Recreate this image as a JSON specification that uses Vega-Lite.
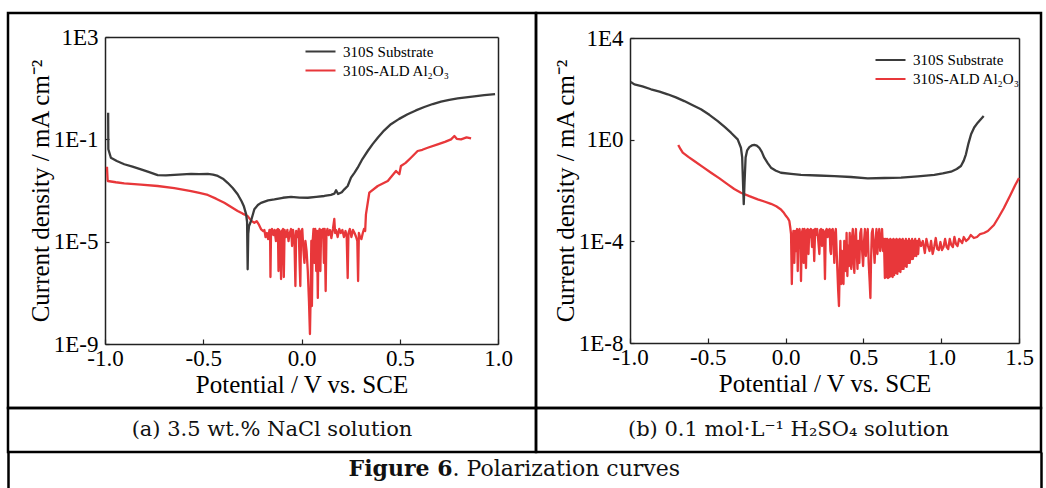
{
  "$schema": "https://vega.github.io/schema/vega-lite/v6.json",
  "background": "white",
  "padding": {"left": 6, "top": 11, "right": 0, "bottom": 0},
  "columns": 2,
  "spacing": 0,
  "bounds": "flush",
  "resolve": {"scale": {"color": "independent"}, "legend": {"color": "independent"}},
  "datasets": {
    "a": [
      {"s": "310S Substrate", "v": -0.984, "i": 1.1},
      {"s": "310S Substrate", "v": -0.983, "i": 0.041},
      {"s": "310S Substrate", "v": -0.970, "i": 0.0191},
      {"s": "310S Substrate", "v": -0.940, "i": 0.0142},
      {"s": "310S Substrate", "v": -0.902, "i": 0.0106},
      {"s": "310S Substrate", "v": -0.860, "i": 0.0085},
      {"s": "310S Substrate", "v": -0.817, "i": 0.0067},
      {"s": "310S Substrate", "v": -0.775, "i": 0.0052},
      {"s": "310S Substrate", "v": -0.732, "i": 0.0040},
      {"s": "310S Substrate", "v": -0.690, "i": 0.0039},
      {"s": "310S Substrate", "v": -0.647, "i": 0.0041},
      {"s": "310S Substrate", "v": -0.605, "i": 0.0043},
      {"s": "310S Substrate", "v": -0.562, "i": 0.0045},
      {"s": "310S Substrate", "v": -0.520, "i": 0.0044},
      {"s": "310S Substrate", "v": -0.477, "i": 0.0045},
      {"s": "310S Substrate", "v": -0.450, "i": 0.0042},
      {"s": "310S Substrate", "v": -0.426, "i": 0.0037},
      {"s": "310S Substrate", "v": -0.400, "i": 0.0029},
      {"s": "310S Substrate", "v": -0.376, "i": 0.0020},
      {"s": "310S Substrate", "v": -0.350, "i": 0.00125},
      {"s": "310S Substrate", "v": -0.325, "i": 0.00071},
      {"s": "310S Substrate", "v": -0.305, "i": 0.00038},
      {"s": "310S Substrate", "v": -0.294, "i": 0.00025},
      {"s": "310S Substrate", "v": -0.282, "i": 0.00012},
      {"s": "310S Substrate", "v": -0.277, "i": 0.00006},
      {"s": "310S Substrate", "v": -0.274, "i": 8.3e-7},
      {"s": "310S Substrate", "v": -0.271, "i": 2e-5},
      {"s": "310S Substrate", "v": -0.267, "i": 4.1e-5},
      {"s": "310S Substrate", "v": -0.257, "i": 6.4e-5},
      {"s": "310S Substrate", "v": -0.240, "i": 1.84e-4},
      {"s": "310S Substrate", "v": -0.222, "i": 2.7e-4},
      {"s": "310S Substrate", "v": -0.206, "i": 3.3e-4},
      {"s": "310S Substrate", "v": -0.170, "i": 4.1e-4},
      {"s": "310S Substrate", "v": -0.138, "i": 4.5e-4},
      {"s": "310S Substrate", "v": -0.095, "i": 5.2e-4},
      {"s": "310S Substrate", "v": -0.053, "i": 5.6e-4},
      {"s": "310S Substrate", "v": -0.010, "i": 5.3e-4},
      {"s": "310S Substrate", "v": 0.032, "i": 5.2e-4},
      {"s": "310S Substrate", "v": 0.075, "i": 5.6e-4},
      {"s": "310S Substrate", "v": 0.116, "i": 6.1e-4},
      {"s": "310S Substrate", "v": 0.150, "i": 6.8e-4},
      {"s": "310S Substrate", "v": 0.167, "i": 7.5e-4},
      {"s": "310S Substrate", "v": 0.176, "i": 1.02e-3},
      {"s": "310S Substrate", "v": 0.186, "i": 7.3e-4},
      {"s": "310S Substrate", "v": 0.205, "i": 8.5e-4},
      {"s": "310S Substrate", "v": 0.218, "i": 1.11e-3},
      {"s": "310S Substrate", "v": 0.235, "i": 1.5e-3},
      {"s": "310S Substrate", "v": 0.252, "i": 3.2e-3},
      {"s": "310S Substrate", "v": 0.270, "i": 5.0e-3},
      {"s": "310S Substrate", "v": 0.286, "i": 7.8e-3},
      {"s": "310S Substrate", "v": 0.310, "i": 0.017},
      {"s": "310S Substrate", "v": 0.337, "i": 0.035},
      {"s": "310S Substrate", "v": 0.362, "i": 0.065},
      {"s": "310S Substrate", "v": 0.388, "i": 0.116},
      {"s": "310S Substrate", "v": 0.420, "i": 0.22},
      {"s": "310S Substrate", "v": 0.455, "i": 0.39},
      {"s": "310S Substrate", "v": 0.497, "i": 0.63},
      {"s": "310S Substrate", "v": 0.540, "i": 0.95},
      {"s": "310S Substrate", "v": 0.582, "i": 1.35},
      {"s": "310S Substrate", "v": 0.625, "i": 1.84},
      {"s": "310S Substrate", "v": 0.668, "i": 2.4},
      {"s": "310S Substrate", "v": 0.710, "i": 2.96},
      {"s": "310S Substrate", "v": 0.752, "i": 3.5},
      {"s": "310S Substrate", "v": 0.795, "i": 4.0},
      {"s": "310S Substrate", "v": 0.837, "i": 4.4},
      {"s": "310S Substrate", "v": 0.879, "i": 4.8},
      {"s": "310S Substrate", "v": 0.930, "i": 5.3},
      {"s": "310S Substrate", "v": 0.985, "i": 5.9},
      {"s": "310S-ALD Al₂O₃", "v": -0.990, "i": 8.5e-3},
      {"s": "310S-ALD Al₂O₃", "v": -0.987, "i": 2.8e-3},
      {"s": "310S-ALD Al₂O₃", "v": -0.986, "i": 2.35e-3},
      {"s": "310S-ALD Al₂O₃", "v": -0.945, "i": 2.1e-3},
      {"s": "310S-ALD Al₂O₃", "v": -0.902, "i": 1.91e-3},
      {"s": "310S-ALD Al₂O₃", "v": -0.817, "i": 1.7e-3},
      {"s": "310S-ALD Al₂O₃", "v": -0.732, "i": 1.5e-3},
      {"s": "310S-ALD Al₂O₃", "v": -0.647, "i": 1.25e-3},
      {"s": "310S-ALD Al₂O₃", "v": -0.562, "i": 9.5e-4},
      {"s": "310S-ALD Al₂O₃", "v": -0.520, "i": 8.0e-4},
      {"s": "310S-ALD Al₂O₃", "v": -0.477, "i": 6.7e-4},
      {"s": "310S-ALD Al₂O₃", "v": -0.435, "i": 4.8e-4},
      {"s": "310S-ALD Al₂O₃", "v": -0.393, "i": 3.3e-4},
      {"s": "310S-ALD Al₂O₃", "v": -0.360, "i": 2.3e-4},
      {"s": "310S-ALD Al₂O₃", "v": -0.325, "i": 1.58e-4},
      {"s": "310S-ALD Al₂O₃", "v": -0.300, "i": 1.25e-4},
      {"s": "310S-ALD Al₂O₃", "v": -0.274, "i": 1.0e-4},
      {"s": "310S-ALD Al₂O₃", "v": -0.255, "i": 6.5e-5},
      {"s": "310S-ALD Al₂O₃", "v": -0.240, "i": 5.5e-5},
      {"s": "310S-ALD Al₂O₃", "v": -0.228, "i": 6.3e-5},
      {"s": "310S-ALD Al₂O₃", "v": -0.216, "i": 4.5e-5},
      {"s": "310S-ALD Al₂O₃", "v": -0.205, "i": 3.0e-5},
      {"s": "310S-ALD Al₂O₃", "v": -0.195, "i": 2.6e-5},
      {"s": "310S-ALD Al₂O₃", "v": -0.189, "i": 2.86e-5},
      {"s": "310S-ALD Al₂O₃", "v": -0.183, "i": 1.52e-5},
      {"s": "310S-ALD Al₂O₃", "v": -0.176, "i": 2.18e-5},
      {"s": "310S-ALD Al₂O₃", "v": -0.170, "i": 1.27e-5},
      {"s": "310S-ALD Al₂O₃", "v": -0.163, "i": 2.86e-5},
      {"s": "310S-ALD Al₂O₃", "v": -0.160, "i": 2.86e-5},
      {"s": "310S-ALD Al₂O₃", "v": -0.158, "i": 4.16e-7},
      {"s": "310S-ALD Al₂O₃", "v": -0.155, "i": 2.61e-5},
      {"s": "310S-ALD Al₂O₃", "v": -0.150, "i": 3.13e-5},
      {"s": "310S-ALD Al₂O₃", "v": -0.143, "i": 1.82e-5},
      {"s": "310S-ALD Al₂O₃", "v": -0.137, "i": 2.86e-5},
      {"s": "310S-ALD Al₂O₃", "v": -0.130, "i": 1.06e-5},
      {"s": "310S-ALD Al₂O₃", "v": -0.125, "i": 2.86e-5},
      {"s": "310S-ALD Al₂O₃", "v": -0.120, "i": 3.13e-5},
      {"s": "310S-ALD Al₂O₃", "v": -0.117, "i": 7.1e-7},
      {"s": "310S-ALD Al₂O₃", "v": -0.114, "i": 2.86e-5},
      {"s": "310S-ALD Al₂O₃", "v": -0.108, "i": 2.18e-5},
      {"s": "310S-ALD Al₂O₃", "v": -0.104, "i": 3.47e-7},
      {"s": "310S-ALD Al₂O₃", "v": -0.100, "i": 2.61e-5},
      {"s": "310S-ALD Al₂O₃", "v": -0.094, "i": 3.13e-5},
      {"s": "310S-ALD Al₂O₃", "v": -0.090, "i": 4.16e-7},
      {"s": "310S-ALD Al₂O₃", "v": -0.086, "i": 2.86e-5},
      {"s": "310S-ALD Al₂O₃", "v": -0.079, "i": 1.52e-5},
      {"s": "310S-ALD Al₂O₃", "v": -0.072, "i": 2.86e-5},
      {"s": "310S-ALD Al₂O₃", "v": -0.066, "i": 1.06e-5},
      {"s": "310S-ALD Al₂O₃", "v": -0.060, "i": 2.18e-5},
      {"s": "310S-ALD Al₂O₃", "v": -0.053, "i": 3.13e-5},
      {"s": "310S-ALD Al₂O₃", "v": -0.048, "i": 6.76e-6},
      {"s": "310S-ALD Al₂O₃", "v": -0.043, "i": 2.86e-5},
      {"s": "310S-ALD Al₂O₃", "v": -0.036, "i": 1.27e-5},
      {"s": "310S-ALD Al₂O₃", "v": -0.031, "i": 1.85e-7},
      {"s": "310S-ALD Al₂O₃", "v": -0.027, "i": 2.61e-5},
      {"s": "310S-ALD Al₂O₃", "v": -0.020, "i": 1.52e-5},
      {"s": "310S-ALD Al₂O₃", "v": -0.014, "i": 3.13e-5},
      {"s": "310S-ALD Al₂O₃", "v": -0.010, "i": 1.75e-6},
      {"s": "310S-ALD Al₂O₃", "v": -0.006, "i": 1.85e-7},
      {"s": "310S-ALD Al₂O₃", "v": -0.002, "i": 2.61e-5},
      {"s": "310S-ALD Al₂O₃", "v": 0.004, "i": 3.13e-5},
      {"s": "310S-ALD Al₂O₃", "v": 0.010, "i": 4.31e-6},
      {"s": "310S-ALD Al₂O₃", "v": 0.015, "i": 1.47e-6},
      {"s": "310S-ALD Al₂O₃", "v": 0.020, "i": 1.06e-5},
      {"s": "310S-ALD Al₂O₃", "v": 0.026, "i": 4.31e-6},
      {"s": "310S-ALD Al₂O₃", "v": 0.032, "i": 7.1e-7},
      {"s": "310S-ALD Al₂O₃", "v": 0.038, "i": 4.8e-8},
      {"s": "310S-ALD Al₂O₃", "v": 0.043, "i": 2.46e-9},
      {"s": "310S-ALD Al₂O₃", "v": 0.047, "i": 1.18e-7},
      {"s": "310S-ALD Al₂O₃", "v": 0.050, "i": 1.06e-5},
      {"s": "310S-ALD Al₂O₃", "v": 0.053, "i": 3.06e-8},
      {"s": "310S-ALD Al₂O₃", "v": 0.057, "i": 1.06e-5},
      {"s": "310S-ALD Al₂O₃", "v": 0.061, "i": 3.13e-5},
      {"s": "310S-ALD Al₂O₃", "v": 0.066, "i": 1.47e-6},
      {"s": "310S-ALD Al₂O₃", "v": 0.070, "i": 3.13e-5},
      {"s": "310S-ALD Al₂O₃", "v": 0.075, "i": 7.1e-7},
      {"s": "310S-ALD Al₂O₃", "v": 0.079, "i": 2.61e-5},
      {"s": "310S-ALD Al₂O₃", "v": 0.083, "i": 6.3e-8},
      {"s": "310S-ALD Al₂O₃", "v": 0.087, "i": 2.18e-5},
      {"s": "310S-ALD Al₂O₃", "v": 0.092, "i": 3.13e-5},
      {"s": "310S-ALD Al₂O₃", "v": 0.096, "i": 7.1e-7},
      {"s": "310S-ALD Al₂O₃", "v": 0.100, "i": 2.86e-5},
      {"s": "310S-ALD Al₂O₃", "v": 0.105, "i": 1.52e-5},
      {"s": "310S-ALD Al₂O₃", "v": 0.110, "i": 3.13e-5},
      {"s": "310S-ALD Al₂O₃", "v": 0.114, "i": 1.47e-6},
      {"s": "310S-ALD Al₂O₃", "v": 0.118, "i": 3.13e-5},
      {"s": "310S-ALD Al₂O₃", "v": 0.123, "i": 1.18e-7},
      {"s": "310S-ALD Al₂O₃", "v": 0.127, "i": 2.18e-5},
      {"s": "310S-ALD Al₂O₃", "v": 0.132, "i": 3.13e-5},
      {"s": "310S-ALD Al₂O₃", "v": 0.138, "i": 1.82e-5},
      {"s": "310S-ALD Al₂O₃", "v": 0.145, "i": 2.86e-5},
      {"s": "310S-ALD Al₂O₃", "v": 0.152, "i": 1.39e-5},
      {"s": "310S-ALD Al₂O₃", "v": 0.160, "i": 3.13e-5},
      {"s": "310S-ALD Al₂O₃", "v": 0.167, "i": 7.7e-5},
      {"s": "310S-ALD Al₂O₃", "v": 0.171, "i": 2.18e-5},
      {"s": "310S-ALD Al₂O₃", "v": 0.176, "i": 2.86e-5},
      {"s": "310S-ALD Al₂O₃", "v": 0.184, "i": 1.52e-5},
      {"s": "310S-ALD Al₂O₃", "v": 0.192, "i": 3.13e-5},
      {"s": "310S-ALD Al₂O₃", "v": 0.200, "i": 2.18e-5},
      {"s": "310S-ALD Al₂O₃", "v": 0.208, "i": 2.86e-5},
      {"s": "310S-ALD Al₂O₃", "v": 0.216, "i": 1.52e-5},
      {"s": "310S-ALD Al₂O₃", "v": 0.224, "i": 2.61e-5},
      {"s": "310S-ALD Al₂O₃", "v": 0.230, "i": 1.52e-5},
      {"s": "310S-ALD Al₂O₃", "v": 0.235, "i": 3.8e-7},
      {"s": "310S-ALD Al₂O₃", "v": 0.239, "i": 2.18e-5},
      {"s": "310S-ALD Al₂O₃", "v": 0.246, "i": 3.13e-5},
      {"s": "310S-ALD Al₂O₃", "v": 0.254, "i": 1.52e-5},
      {"s": "310S-ALD Al₂O₃", "v": 0.262, "i": 2.86e-5},
      {"s": "310S-ALD Al₂O₃", "v": 0.270, "i": 2.18e-5},
      {"s": "310S-ALD Al₂O₃", "v": 0.278, "i": 1.52e-5},
      {"s": "310S-ALD Al₂O₃", "v": 0.284, "i": 1.06e-5},
      {"s": "310S-ALD Al₂O₃", "v": 0.288, "i": 2.9e-7},
      {"s": "310S-ALD Al₂O₃", "v": 0.292, "i": 2.18e-5},
      {"s": "310S-ALD Al₂O₃", "v": 0.298, "i": 1.52e-5},
      {"s": "310S-ALD Al₂O₃", "v": 0.305, "i": 1.27e-5},
      {"s": "310S-ALD Al₂O₃", "v": 0.312, "i": 2.18e-5},
      {"s": "310S-ALD Al₂O₃", "v": 0.318, "i": 3.13e-5},
      {"s": "310S-ALD Al₂O₃", "v": 0.324, "i": 2.61e-5},
      {"s": "310S-ALD Al₂O₃", "v": 0.328, "i": 1.17e-4},
      {"s": "310S-ALD Al₂O₃", "v": 0.345, "i": 8.2e-4},
      {"s": "310S-ALD Al₂O₃", "v": 0.388, "i": 1.5e-3},
      {"s": "310S-ALD Al₂O₃", "v": 0.439, "i": 2.35e-3},
      {"s": "310S-ALD Al₂O₃", "v": 0.481, "i": 5.8e-3},
      {"s": "310S-ALD Al₂O₃", "v": 0.498, "i": 4.3e-3},
      {"s": "310S-ALD Al₂O₃", "v": 0.506, "i": 9.1e-3},
      {"s": "310S-ALD Al₂O₃", "v": 0.530, "i": 0.012},
      {"s": "310S-ALD Al₂O₃", "v": 0.557, "i": 0.0191},
      {"s": "310S-ALD Al₂O₃", "v": 0.591, "i": 0.035},
      {"s": "310S-ALD Al₂O₃", "v": 0.615, "i": 0.039},
      {"s": "310S-ALD Al₂O₃", "v": 0.642, "i": 0.047},
      {"s": "310S-ALD Al₂O₃", "v": 0.693, "i": 0.064},
      {"s": "310S-ALD Al₂O₃", "v": 0.730, "i": 0.080},
      {"s": "310S-ALD Al₂O₃", "v": 0.761, "i": 0.100},
      {"s": "310S-ALD Al₂O₃", "v": 0.778, "i": 0.135},
      {"s": "310S-ALD Al₂O₃", "v": 0.790, "i": 0.105},
      {"s": "310S-ALD Al₂O₃", "v": 0.812, "i": 0.100},
      {"s": "310S-ALD Al₂O₃", "v": 0.840, "i": 0.120},
      {"s": "310S-ALD Al₂O₃", "v": 0.863, "i": 0.110}
    ],
    "b": [
      {"s": "310S Substrate", "v": -0.995, "i": 185},
      {"s": "310S Substrate", "v": -0.972, "i": 150},
      {"s": "310S Substrate", "v": -0.920, "i": 125},
      {"s": "310S Substrate", "v": -0.865, "i": 96},
      {"s": "310S Substrate", "v": -0.810, "i": 78},
      {"s": "310S Substrate", "v": -0.758, "i": 61},
      {"s": "310S Substrate", "v": -0.705, "i": 46},
      {"s": "310S Substrate", "v": -0.651, "i": 33},
      {"s": "310S Substrate", "v": -0.600, "i": 23},
      {"s": "310S Substrate", "v": -0.544, "i": 15.7},
      {"s": "310S Substrate", "v": -0.490, "i": 9.5},
      {"s": "310S Substrate", "v": -0.436, "i": 5.4},
      {"s": "310S Substrate", "v": -0.390, "i": 3.1},
      {"s": "310S Substrate", "v": -0.351, "i": 1.88},
      {"s": "310S Substrate", "v": -0.308, "i": 1.03},
      {"s": "310S Substrate", "v": -0.287, "i": 0.48},
      {"s": "310S Substrate", "v": -0.279, "i": 0.2},
      {"s": "310S Substrate", "v": -0.272, "i": 0.01},
      {"s": "310S Substrate", "v": -0.269, "i": 0.0029},
      {"s": "310S Substrate", "v": -0.264, "i": 0.02},
      {"s": "310S Substrate", "v": -0.257, "i": 0.2},
      {"s": "310S Substrate", "v": -0.247, "i": 0.38},
      {"s": "310S Substrate", "v": -0.233, "i": 0.51},
      {"s": "310S Substrate", "v": -0.217, "i": 0.59},
      {"s": "310S Substrate", "v": -0.201, "i": 0.62},
      {"s": "310S Substrate", "v": -0.185, "i": 0.58},
      {"s": "310S Substrate", "v": -0.169, "i": 0.48},
      {"s": "310S Substrate", "v": -0.153, "i": 0.33},
      {"s": "310S Substrate", "v": -0.137, "i": 0.195},
      {"s": "310S Substrate", "v": -0.115, "i": 0.12},
      {"s": "310S Substrate", "v": -0.094, "i": 0.079},
      {"s": "310S Substrate", "v": -0.062, "i": 0.060},
      {"s": "310S Substrate", "v": -0.030, "i": 0.050},
      {"s": "310S Substrate", "v": 0.035, "i": 0.045},
      {"s": "310S Substrate", "v": 0.099, "i": 0.041},
      {"s": "310S Substrate", "v": 0.206, "i": 0.039},
      {"s": "310S Substrate", "v": 0.313, "i": 0.037},
      {"s": "310S Substrate", "v": 0.420, "i": 0.034},
      {"s": "310S Substrate", "v": 0.528, "i": 0.030},
      {"s": "310S Substrate", "v": 0.635, "i": 0.031},
      {"s": "310S Substrate", "v": 0.742, "i": 0.032},
      {"s": "310S Substrate", "v": 0.850, "i": 0.036},
      {"s": "310S Substrate", "v": 0.956, "i": 0.041},
      {"s": "310S Substrate", "v": 1.010, "i": 0.047},
      {"s": "310S Substrate", "v": 1.063, "i": 0.055},
      {"s": "310S Substrate", "v": 1.100, "i": 0.07},
      {"s": "310S Substrate", "v": 1.127, "i": 0.092},
      {"s": "310S Substrate", "v": 1.145, "i": 0.15},
      {"s": "310S Substrate", "v": 1.159, "i": 0.265},
      {"s": "310S Substrate", "v": 1.175, "i": 0.7},
      {"s": "310S Substrate", "v": 1.192, "i": 1.63},
      {"s": "310S Substrate", "v": 1.212, "i": 3.0},
      {"s": "310S Substrate", "v": 1.235, "i": 4.66},
      {"s": "310S Substrate", "v": 1.273, "i": 8.5},
      {"s": "310S-ALD Al₂O₃", "v": -0.690, "i": 0.62},
      {"s": "310S-ALD Al₂O₃", "v": -0.675, "i": 0.42},
      {"s": "310S-ALD Al₂O₃", "v": -0.661, "i": 0.31},
      {"s": "310S-ALD Al₂O₃", "v": -0.625, "i": 0.21},
      {"s": "310S-ALD Al₂O₃", "v": -0.587, "i": 0.145},
      {"s": "310S-ALD Al₂O₃", "v": -0.533, "i": 0.085},
      {"s": "310S-ALD Al₂O₃", "v": -0.479, "i": 0.050},
      {"s": "310S-ALD Al₂O₃", "v": -0.425, "i": 0.030},
      {"s": "310S-ALD Al₂O₃", "v": -0.372, "i": 0.0175},
      {"s": "310S-ALD Al₂O₃", "v": -0.330, "i": 0.0115},
      {"s": "310S-ALD Al₂O₃", "v": -0.287, "i": 0.0082},
      {"s": "310S-ALD Al₂O₃", "v": -0.233, "i": 0.0060},
      {"s": "310S-ALD Al₂O₃", "v": -0.179, "i": 0.0045},
      {"s": "310S-ALD Al₂O₃", "v": -0.137, "i": 0.0037},
      {"s": "310S-ALD Al₂O₃", "v": -0.094, "i": 0.0030},
      {"s": "310S-ALD Al₂O₃", "v": -0.060, "i": 0.0024},
      {"s": "310S-ALD Al₂O₃", "v": -0.030, "i": 0.0018},
      {"s": "310S-ALD Al₂O₃", "v": -0.010, "i": 0.0013},
      {"s": "310S-ALD Al₂O₃", "v": 0.003, "i": 9.9e-4},
      {"s": "310S-ALD Al₂O₃", "v": 0.015, "i": 8.0e-4},
      {"s": "310S-ALD Al₂O₃", "v": 0.024, "i": 6.3e-4},
      {"s": "310S-ALD Al₂O₃", "v": 0.030, "i": 3.5e-4},
      {"s": "310S-ALD Al₂O₃", "v": 0.035, "i": 1.94e-4},
      {"s": "310S-ALD Al₂O₃", "v": 0.040, "i": 2.09e-6},
      {"s": "310S-ALD Al₂O₃", "v": 0.045, "i": 1.03e-4},
      {"s": "310S-ALD Al₂O₃", "v": 0.050, "i": 2.55e-4},
      {"s": "310S-ALD Al₂O₃", "v": 0.056, "i": 1.41e-5},
      {"s": "310S-ALD Al₂O₃", "v": 0.062, "i": 2.55e-4},
      {"s": "310S-ALD Al₂O₃", "v": 0.068, "i": 4.17e-5},
      {"s": "310S-ALD Al₂O₃", "v": 0.074, "i": 3.05e-4},
      {"s": "310S-ALD Al₂O₃", "v": 0.078, "i": 6.8e-6},
      {"s": "310S-ALD Al₂O₃", "v": 0.083, "i": 2.33e-4},
      {"s": "310S-ALD Al₂O₃", "v": 0.090, "i": 3.05e-4},
      {"s": "310S-ALD Al₂O₃", "v": 0.095, "i": 1.03e-4},
      {"s": "310S-ALD Al₂O₃", "v": 0.099, "i": 2.75e-6},
      {"s": "310S-ALD Al₂O₃", "v": 0.104, "i": 2.13e-4},
      {"s": "310S-ALD Al₂O₃", "v": 0.110, "i": 3.05e-4},
      {"s": "310S-ALD Al₂O₃", "v": 0.116, "i": 1.41e-5},
      {"s": "310S-ALD Al₂O₃", "v": 0.121, "i": 3.05e-4},
      {"s": "310S-ALD Al₂O₃", "v": 0.126, "i": 6.55e-5},
      {"s": "310S-ALD Al₂O₃", "v": 0.131, "i": 8.9e-6},
      {"s": "310S-ALD Al₂O₃", "v": 0.136, "i": 2.79e-4},
      {"s": "310S-ALD Al₂O₃", "v": 0.142, "i": 3.05e-4},
      {"s": "310S-ALD Al₂O₃", "v": 0.147, "i": 3.18e-5},
      {"s": "310S-ALD Al₂O₃", "v": 0.152, "i": 2.79e-4},
      {"s": "310S-ALD Al₂O₃", "v": 0.158, "i": 1.48e-4},
      {"s": "310S-ALD Al₂O₃", "v": 0.163, "i": 3.05e-4},
      {"s": "310S-ALD Al₂O₃", "v": 0.170, "i": 5.98e-5},
      {"s": "310S-ALD Al₂O₃", "v": 0.178, "i": 2.79e-4},
      {"s": "310S-ALD Al₂O₃", "v": 0.184, "i": 1.68e-5},
      {"s": "310S-ALD Al₂O₃", "v": 0.190, "i": 3.05e-4},
      {"s": "310S-ALD Al₂O₃", "v": 0.196, "i": 1.78e-4},
      {"s": "310S-ALD Al₂O₃", "v": 0.203, "i": 3.05e-4},
      {"s": "310S-ALD Al₂O₃", "v": 0.210, "i": 1.03e-4},
      {"s": "310S-ALD Al₂O₃", "v": 0.217, "i": 3.18e-5},
      {"s": "310S-ALD Al₂O₃", "v": 0.222, "i": 2.79e-4},
      {"s": "310S-ALD Al₂O₃", "v": 0.228, "i": 3.05e-4},
      {"s": "310S-ALD Al₂O₃", "v": 0.234, "i": 6.55e-5},
      {"s": "310S-ALD Al₂O₃", "v": 0.240, "i": 2.79e-4},
      {"s": "310S-ALD Al₂O₃", "v": 0.247, "i": 2.13e-4},
      {"s": "310S-ALD Al₂O₃", "v": 0.253, "i": 3.3e-6},
      {"s": "310S-ALD Al₂O₃", "v": 0.258, "i": 2.55e-4},
      {"s": "310S-ALD Al₂O₃", "v": 0.264, "i": 3.05e-4},
      {"s": "310S-ALD Al₂O₃", "v": 0.270, "i": 1.48e-4},
      {"s": "310S-ALD Al₂O₃", "v": 0.277, "i": 2.79e-4},
      {"s": "310S-ALD Al₂O₃", "v": 0.283, "i": 3.05e-4},
      {"s": "310S-ALD Al₂O₃", "v": 0.288, "i": 4.17e-5},
      {"s": "310S-ALD Al₂O₃", "v": 0.292, "i": 3.18e-5},
      {"s": "310S-ALD Al₂O₃", "v": 0.297, "i": 2.79e-4},
      {"s": "310S-ALD Al₂O₃", "v": 0.303, "i": 3.05e-4},
      {"s": "310S-ALD Al₂O₃", "v": 0.308, "i": 1.03e-4},
      {"s": "310S-ALD Al₂O₃", "v": 0.313, "i": 1.41e-5},
      {"s": "310S-ALD Al₂O₃", "v": 0.318, "i": 2.13e-4},
      {"s": "310S-ALD Al₂O₃", "v": 0.323, "i": 3.05e-4},
      {"s": "310S-ALD Al₂O₃", "v": 0.328, "i": 4.17e-5},
      {"s": "310S-ALD Al₂O₃", "v": 0.333, "i": 6.8e-6},
      {"s": "310S-ALD Al₂O₃", "v": 0.338, "i": 1.11e-6},
      {"s": "310S-ALD Al₂O₃", "v": 0.343, "i": 2.86e-7},
      {"s": "310S-ALD Al₂O₃", "v": 0.348, "i": 1.07e-5},
      {"s": "310S-ALD Al₂O₃", "v": 0.352, "i": 1.03e-4},
      {"s": "310S-ALD Al₂O₃", "v": 0.357, "i": 2.09e-6},
      {"s": "310S-ALD Al₂O₃", "v": 0.362, "i": 4.17e-5},
      {"s": "310S-ALD Al₂O₃", "v": 0.367, "i": 6.8e-6},
      {"s": "310S-ALD Al₂O₃", "v": 0.372, "i": 2.09e-6},
      {"s": "310S-ALD Al₂O₃", "v": 0.377, "i": 1.03e-4},
      {"s": "310S-ALD Al₂O₃", "v": 0.382, "i": 1.41e-5},
      {"s": "310S-ALD Al₂O₃", "v": 0.387, "i": 6.8e-6},
      {"s": "310S-ALD Al₂O₃", "v": 0.392, "i": 2.13e-4},
      {"s": "310S-ALD Al₂O₃", "v": 0.397, "i": 4.3e-6},
      {"s": "310S-ALD Al₂O₃", "v": 0.402, "i": 6.55e-5},
      {"s": "310S-ALD Al₂O₃", "v": 0.407, "i": 1.07e-5},
      {"s": "310S-ALD Al₂O₃", "v": 0.412, "i": 2.13e-4},
      {"s": "310S-ALD Al₂O₃", "v": 0.417, "i": 1.68e-5},
      {"s": "310S-ALD Al₂O₃", "v": 0.422, "i": 8.2e-6},
      {"s": "310S-ALD Al₂O₃", "v": 0.427, "i": 1.48e-4},
      {"s": "310S-ALD Al₂O₃", "v": 0.432, "i": 3.05e-4},
      {"s": "310S-ALD Al₂O₃", "v": 0.437, "i": 1.41e-5},
      {"s": "310S-ALD Al₂O₃", "v": 0.442, "i": 5.7e-6},
      {"s": "310S-ALD Al₂O₃", "v": 0.447, "i": 1.48e-4},
      {"s": "310S-ALD Al₂O₃", "v": 0.452, "i": 3.05e-4},
      {"s": "310S-ALD Al₂O₃", "v": 0.457, "i": 4.17e-5},
      {"s": "310S-ALD Al₂O₃", "v": 0.462, "i": 8.2e-6},
      {"s": "310S-ALD Al₂O₃", "v": 0.467, "i": 1.03e-4},
      {"s": "310S-ALD Al₂O₃", "v": 0.474, "i": 1.41e-5},
      {"s": "310S-ALD Al₂O₃", "v": 0.480, "i": 2.13e-4},
      {"s": "310S-ALD Al₂O₃", "v": 0.486, "i": 3.05e-4},
      {"s": "310S-ALD Al₂O₃", "v": 0.492, "i": 4.17e-5},
      {"s": "310S-ALD Al₂O₃", "v": 0.498, "i": 1.07e-5},
      {"s": "310S-ALD Al₂O₃", "v": 0.504, "i": 1.03e-4},
      {"s": "310S-ALD Al₂O₃", "v": 0.510, "i": 3.05e-4},
      {"s": "310S-ALD Al₂O₃", "v": 0.516, "i": 2.65e-5},
      {"s": "310S-ALD Al₂O₃", "v": 0.522, "i": 1.48e-4},
      {"s": "310S-ALD Al₂O₃", "v": 0.528, "i": 3.05e-4},
      {"s": "310S-ALD Al₂O₃", "v": 0.534, "i": 1.41e-5},
      {"s": "310S-ALD Al₂O₃", "v": 0.540, "i": 2.75e-6},
      {"s": "310S-ALD Al₂O₃", "v": 0.545, "i": 5.9e-7},
      {"s": "310S-ALD Al₂O₃", "v": 0.549, "i": 1.68e-5},
      {"s": "310S-ALD Al₂O₃", "v": 0.554, "i": 2.13e-4},
      {"s": "310S-ALD Al₂O₃", "v": 0.560, "i": 3.05e-4},
      {"s": "310S-ALD Al₂O₃", "v": 0.566, "i": 6.55e-5},
      {"s": "310S-ALD Al₂O₃", "v": 0.572, "i": 1.41e-5},
      {"s": "310S-ALD Al₂O₃", "v": 0.578, "i": 1.03e-4},
      {"s": "310S-ALD Al₂O₃", "v": 0.584, "i": 3.05e-4},
      {"s": "310S-ALD Al₂O₃", "v": 0.590, "i": 3.18e-5},
      {"s": "310S-ALD Al₂O₃", "v": 0.596, "i": 1.48e-4},
      {"s": "310S-ALD Al₂O₃", "v": 0.602, "i": 3.05e-4},
      {"s": "310S-ALD Al₂O₃", "v": 0.608, "i": 4.17e-5},
      {"s": "310S-ALD Al₂O₃", "v": 0.614, "i": 1.03e-4},
      {"s": "310S-ALD Al₂O₃", "v": 0.620, "i": 3.05e-4},
      {"s": "310S-ALD Al₂O₃", "v": 0.626, "i": 4.17e-5},
      {"s": "310S-ALD Al₂O₃", "v": 0.632, "i": 1.24e-4},
      {"s": "310S-ALD Al₂O₃", "v": 0.638, "i": 3.6e-6},
      {"s": "310S-ALD Al₂O₃", "v": 0.643, "i": 1.24e-4},
      {"s": "310S-ALD Al₂O₃", "v": 0.648, "i": 3.95e-6},
      {"s": "310S-ALD Al₂O₃", "v": 0.653, "i": 1.24e-4},
      {"s": "310S-ALD Al₂O₃", "v": 0.658, "i": 3.6e-6},
      {"s": "310S-ALD Al₂O₃", "v": 0.663, "i": 1.13e-4},
      {"s": "310S-ALD Al₂O₃", "v": 0.668, "i": 3.95e-6},
      {"s": "310S-ALD Al₂O₃", "v": 0.673, "i": 1.24e-4},
      {"s": "310S-ALD Al₂O₃", "v": 0.678, "i": 4.3e-6},
      {"s": "310S-ALD Al₂O₃", "v": 0.683, "i": 1.13e-4},
      {"s": "310S-ALD Al₂O₃", "v": 0.688, "i": 3.95e-6},
      {"s": "310S-ALD Al₂O₃", "v": 0.693, "i": 1.24e-4},
      {"s": "310S-ALD Al₂O₃", "v": 0.698, "i": 4.7e-6},
      {"s": "310S-ALD Al₂O₃", "v": 0.703, "i": 1.13e-4},
      {"s": "310S-ALD Al₂O₃", "v": 0.708, "i": 5.7e-6},
      {"s": "310S-ALD Al₂O₃", "v": 0.713, "i": 1.24e-4},
      {"s": "310S-ALD Al₂O₃", "v": 0.718, "i": 5.2e-6},
      {"s": "310S-ALD Al₂O₃", "v": 0.723, "i": 1.13e-4},
      {"s": "310S-ALD Al₂O₃", "v": 0.728, "i": 6.8e-6},
      {"s": "310S-ALD Al₂O₃", "v": 0.733, "i": 1.24e-4},
      {"s": "310S-ALD Al₂O₃", "v": 0.738, "i": 6.2e-6},
      {"s": "310S-ALD Al₂O₃", "v": 0.743, "i": 1.13e-4},
      {"s": "310S-ALD Al₂O₃", "v": 0.748, "i": 8.2e-6},
      {"s": "310S-ALD Al₂O₃", "v": 0.753, "i": 1.24e-4},
      {"s": "310S-ALD Al₂O₃", "v": 0.758, "i": 8.2e-6},
      {"s": "310S-ALD Al₂O₃", "v": 0.763, "i": 1.03e-4},
      {"s": "310S-ALD Al₂O₃", "v": 0.768, "i": 1.07e-5},
      {"s": "310S-ALD Al₂O₃", "v": 0.773, "i": 1.24e-4},
      {"s": "310S-ALD Al₂O₃", "v": 0.778, "i": 9.8e-6},
      {"s": "310S-ALD Al₂O₃", "v": 0.783, "i": 1.03e-4},
      {"s": "310S-ALD Al₂O₃", "v": 0.788, "i": 1.41e-5},
      {"s": "310S-ALD Al₂O₃", "v": 0.793, "i": 1.24e-4},
      {"s": "310S-ALD Al₂O₃", "v": 0.798, "i": 1.41e-5},
      {"s": "310S-ALD Al₂O₃", "v": 0.803, "i": 1.03e-4},
      {"s": "310S-ALD Al₂O₃", "v": 0.808, "i": 2.02e-5},
      {"s": "310S-ALD Al₂O₃", "v": 0.813, "i": 1.24e-4},
      {"s": "310S-ALD Al₂O₃", "v": 0.818, "i": 2.02e-5},
      {"s": "310S-ALD Al₂O₃", "v": 0.823, "i": 1.03e-4},
      {"s": "310S-ALD Al₂O₃", "v": 0.828, "i": 2.65e-5},
      {"s": "310S-ALD Al₂O₃", "v": 0.833, "i": 1.24e-4},
      {"s": "310S-ALD Al₂O₃", "v": 0.840, "i": 2.65e-5},
      {"s": "310S-ALD Al₂O₃", "v": 0.846, "i": 1.03e-4},
      {"s": "310S-ALD Al₂O₃", "v": 0.852, "i": 3.18e-5},
      {"s": "310S-ALD Al₂O₃", "v": 0.858, "i": 1.24e-4},
      {"s": "310S-ALD Al₂O₃", "v": 0.870, "i": 6.55e-5},
      {"s": "310S-ALD Al₂O₃", "v": 0.882, "i": 1.03e-4},
      {"s": "310S-ALD Al₂O₃", "v": 0.895, "i": 3.48e-5},
      {"s": "310S-ALD Al₂O₃", "v": 0.905, "i": 1.24e-4},
      {"s": "310S-ALD Al₂O₃", "v": 0.915, "i": 6.55e-5},
      {"s": "310S-ALD Al₂O₃", "v": 0.925, "i": 4.17e-5},
      {"s": "310S-ALD Al₂O₃", "v": 0.935, "i": 1.03e-4},
      {"s": "310S-ALD Al₂O₃", "v": 0.945, "i": 3.18e-5},
      {"s": "310S-ALD Al₂O₃", "v": 0.955, "i": 5.98e-5},
      {"s": "310S-ALD Al₂O₃", "v": 0.965, "i": 1.35e-4},
      {"s": "310S-ALD Al₂O₃", "v": 0.975, "i": 4.99e-5},
      {"s": "310S-ALD Al₂O₃", "v": 0.985, "i": 4.56e-5},
      {"s": "310S-ALD Al₂O₃", "v": 0.995, "i": 9.4e-5},
      {"s": "310S-ALD Al₂O₃", "v": 1.005, "i": 4.56e-5},
      {"s": "310S-ALD Al₂O₃", "v": 1.015, "i": 5.98e-5},
      {"s": "310S-ALD Al₂O₃", "v": 1.025, "i": 1.24e-4},
      {"s": "310S-ALD Al₂O₃", "v": 1.035, "i": 5.98e-5},
      {"s": "310S-ALD Al₂O₃", "v": 1.045, "i": 4.99e-5},
      {"s": "310S-ALD Al₂O₃", "v": 1.055, "i": 1.24e-4},
      {"s": "310S-ALD Al₂O₃", "v": 1.065, "i": 7.17e-5},
      {"s": "310S-ALD Al₂O₃", "v": 1.075, "i": 5.98e-5},
      {"s": "310S-ALD Al₂O₃", "v": 1.085, "i": 1.48e-4},
      {"s": "310S-ALD Al₂O₃", "v": 1.095, "i": 7.85e-5},
      {"s": "310S-ALD Al₂O₃", "v": 1.105, "i": 6.55e-5},
      {"s": "310S-ALD Al₂O₃", "v": 1.115, "i": 1.24e-4},
      {"s": "310S-ALD Al₂O₃", "v": 1.125, "i": 1.03e-4},
      {"s": "310S-ALD Al₂O₃", "v": 1.135, "i": 8.6e-5},
      {"s": "310S-ALD Al₂O₃", "v": 1.145, "i": 1.48e-4},
      {"s": "310S-ALD Al₂O₃", "v": 1.160, "i": 1.03e-4},
      {"s": "310S-ALD Al₂O₃", "v": 1.175, "i": 1.24e-4},
      {"s": "310S-ALD Al₂O₃", "v": 1.190, "i": 1.78e-4},
      {"s": "310S-ALD Al₂O₃", "v": 1.210, "i": 1.35e-4},
      {"s": "310S-ALD Al₂O₃", "v": 1.230, "i": 1.48e-4},
      {"s": "310S-ALD Al₂O₃", "v": 1.250, "i": 1.94e-4},
      {"s": "310S-ALD Al₂O₃", "v": 1.275, "i": 2.13e-4},
      {"s": "310S-ALD Al₂O₃", "v": 1.300, "i": 2.55e-4},
      {"s": "310S-ALD Al₂O₃", "v": 1.339, "i": 4.39e-4},
      {"s": "310S-ALD Al₂O₃", "v": 1.370, "i": 9.06e-4},
      {"s": "310S-ALD Al₂O₃", "v": 1.403, "i": 2.05e-3},
      {"s": "310S-ALD Al₂O₃", "v": 1.448, "i": 7.28e-3},
      {"s": "310S-ALD Al₂O₃", "v": 1.475, "i": 0.016},
      {"s": "310S-ALD Al₂O₃", "v": 1.500, "i": 0.031}
    ]
  },
  "concat": [
    {
      "width": 528,
      "height": 395,
      "data": {"name": "a"},
      "resolve": {"axis": {"x": "independent", "y": "independent"}},
      "layer": [
        {
          "transform": [{"filter": {"field": "s", "equal": "310S-ALD Al₂O₃"}}],
          "mark": {"type": "line", "strokeWidth": 2.3, "strokeJoin": "round"},
          "encoding": {
            "x": {"field": "v", "type": "quantitative", "scale": {"domain": [-1, 1], "range": [97, 490], "nice": false, "zero": false},
                  "axis": {"orient": "top", "offset": -24, "labels": false, "ticks": false, "title": null}},
            "y": {"field": "i", "type": "quantitative", "scale": {"type": "log", "domain": [1e-9, 1000], "range": [331, 24], "nice": false},
                  "axis": {"orient": "right", "offset": -38, "labels": false, "ticks": false, "title": null}},
            "color": {"field": "s", "type": "nominal",
                      "scale": {"domain": ["310S Substrate", "310S-ALD Al₂O₃"], "range": ["#3b3b3b", "#e8373a"]},
                      "legend": {"orient": "none", "legendX": 296, "legendY": 31.5, "title": null, "labelFontSize": 15, "labelFont": "Liberation Serif", "clipHeight": 14, "rowPadding": 4}}
          }
        },
        {
          "transform": [{"filter": {"field": "s", "equal": "310S Substrate"}}],
          "mark": {"type": "line", "strokeWidth": 2.3, "strokeJoin": "round"},
          "encoding": {
            "x": {"field": "v", "type": "quantitative", "scale": {"domain": [-1, 1], "range": [97, 490], "nice": false, "zero": false},
                  "axis": {"orient": "bottom", "offset": -64, "values": [-1, -0.5, 0, 0.5, 1],
                           "labelExpr": "(datum.value < 0 ? '-' : '') + format(abs(datum.value), '.1f')",
                           "labelFlush": false, "tickSize": -5, "labelPadding": 8,
                           "title": "Potential / V vs. SCE", "titlePadding": 2}},
            "y": {"field": "i", "type": "quantitative", "scale": {"type": "log", "domain": [1e-9, 1000], "range": [331, 24], "nice": false},
                  "axis": {"orient": "left", "offset": -97, "values": [1e-9, 1e-5, 0.1, 1000],
                           "labelExpr": "'1E' + round(log(datum.value) / LN10)",
                           "labelFlush": false, "tickSize": -4, "labelPadding": 11,
                           "title": "Current density / mA cm⁻²", "titlePadding": 0}},
            "color": {"field": "s", "type": "nominal",
                      "scale": {"domain": ["310S Substrate", "310S-ALD Al₂O₃"], "range": ["#3b3b3b", "#e8373a"]},
                      "legend": {"orient": "none", "legendX": 296, "legendY": 31.5, "title": null, "labelFontSize": 15, "labelFont": "Liberation Serif", "clipHeight": 14, "rowPadding": 4}}
          }
        }
      ]
    },
    {
      "width": 505,
      "height": 395,
      "data": {"name": "b"},
      "resolve": {"axis": {"x": "independent", "y": "independent"}},
      "layer": [
        {
          "transform": [{"filter": {"field": "s", "equal": "310S-ALD Al₂O₃"}}],
          "mark": {"type": "line", "strokeWidth": 2.3, "strokeJoin": "round"},
          "encoding": {
            "x": {"field": "v", "type": "quantitative", "scale": {"domain": [-1, 1.5], "range": [94, 483], "nice": false, "zero": false},
                  "axis": {"orient": "top", "offset": -25, "labels": false, "ticks": false, "title": null}},
            "y": {"field": "i", "type": "quantitative", "scale": {"type": "log", "domain": [1e-8, 10000], "range": [330, 25], "nice": false},
                  "axis": {"orient": "right", "offset": -22, "labels": false, "ticks": false, "title": null}},
            "color": {"field": "s", "type": "nominal",
                      "scale": {"domain": ["310S Substrate", "310S-ALD Al₂O₃"], "range": ["#3b3b3b", "#e8373a"]},
                      "legend": {"orient": "none", "legendX": 338, "legendY": 40, "title": null, "labelFontSize": 15, "labelFont": "Liberation Serif", "clipHeight": 14, "rowPadding": 4}}
          }
        },
        {
          "transform": [{"filter": {"field": "s", "equal": "310S Substrate"}}],
          "mark": {"type": "line", "strokeWidth": 2.3, "strokeJoin": "round"},
          "encoding": {
            "x": {"field": "v", "type": "quantitative", "scale": {"domain": [-1, 1.5], "range": [94, 483], "nice": false, "zero": false},
                  "axis": {"orient": "bottom", "offset": -65, "values": [-1, -0.5, 0, 0.5, 1, 1.5],
                           "labelExpr": "(datum.value < 0 ? '-' : '') + format(abs(datum.value), '.1f')",
                           "labelFlush": false, "tickSize": -5, "labelPadding": 8,
                           "title": "Potential / V vs. SCE", "titlePadding": 2}},
            "y": {"field": "i", "type": "quantitative", "scale": {"type": "log", "domain": [1e-8, 10000], "range": [330, 25], "nice": false},
                  "axis": {"orient": "left", "offset": -94, "values": [1e-8, 1e-4, 1, 10000],
                           "labelExpr": "'1E' + round(log(datum.value) / LN10)",
                           "labelFlush": false, "tickSize": -4, "labelPadding": 11,
                           "title": "Current density / mA cm⁻²", "titlePadding": 0}},
            "color": {"field": "s", "type": "nominal",
                      "scale": {"domain": ["310S Substrate", "310S-ALD Al₂O₃"], "range": ["#3b3b3b", "#e8373a"]},
                      "legend": {"orient": "none", "legendX": 338, "legendY": 40, "title": null, "labelFontSize": 15, "labelFont": "Liberation Serif", "clipHeight": 14, "rowPadding": 4}}
          }
        }
      ]
    },
    {
      "width": 528,
      "height": 44,
      "view": {"stroke": "#000", "strokeWidth": 2.5},
      "resolve": {"axis": {"y": "independent"}},
      "layer": [
        {
          "data": {"values": [{"t": "(a) 3.5 wt.% NaCl solution"}]},
          "mark": {"type": "text", "font": "DejaVu Serif", "fontSize": 21, "color": "#111", "align": "center", "baseline": "middle"},
          "encoding": {"text": {"field": "t", "type": "nominal"}}
        },
        {
          "data": {"values": [{"t": "Figure 6", "fx": 0.5, "fy": 0.2}]},
          "mark": {"type": "text", "font": "DejaVu Serif", "fontSize": 22, "fontWeight": "bold", "color": "#111", "align": "right", "baseline": "middle", "dx": -72},
          "encoding": {
            "text": {"field": "t", "type": "nominal"},
            "x": {"field": "fx", "type": "quantitative", "scale": {"domain": [0, 1], "range": [0, 1033], "nice": false, "zero": false}, "axis": null},
            "y": {"field": "fy", "type": "quantitative", "scale": {"domain": [0, 1], "range": [44, 130], "nice": false, "zero": false},
                  "axis": {"orient": "left", "offset": 0, "labels": false, "ticks": false, "title": null, "domainColor": "#000", "domainWidth": 2.5}}
          }
        },
        {
          "data": {"values": [{"t": ". Polarization curves", "fx": 0.5, "fy": 0.2}]},
          "mark": {"type": "text", "font": "DejaVu Serif", "fontSize": 22, "color": "#111", "align": "left", "baseline": "middle", "dx": -72},
          "encoding": {
            "text": {"field": "t", "type": "nominal"},
            "x": {"field": "fx", "type": "quantitative", "scale": {"domain": [0, 1], "range": [0, 1033], "nice": false, "zero": false}, "axis": null},
            "y": {"field": "fy", "type": "quantitative", "scale": {"domain": [0, 1], "range": [44, 130], "nice": false, "zero": false},
                  "axis": {"orient": "right", "offset": 505, "labels": false, "ticks": false, "title": null, "domainColor": "#000", "domainWidth": 2.5}}
          }
        }
      ]
    },
    {
      "width": 505,
      "height": 44,
      "view": {"stroke": "#000", "strokeWidth": 2.5},
      "data": {"values": [{"t": "(b) 0.1 mol·L⁻¹ H₂SO₄ solution"}]},
      "mark": {"type": "text", "font": "DejaVu Serif", "fontSize": 21, "color": "#111", "align": "center", "baseline": "middle"},
      "encoding": {"text": {"field": "t", "type": "nominal"}}
    }
  ],
  "config": {
    "view": {"stroke": "#000", "strokeWidth": 2.5},
    "style": {"view": {"stroke": "#000", "strokeWidth": 2.5}},
    "axis": {
      "grid": false,
      "domainColor": "#222",
      "domainWidth": 1.5,
      "tickColor": "#222",
      "tickWidth": 1.2,
      "labelColor": "#000",
      "titleColor": "#000",
      "labelFont": "Liberation Serif",
      "titleFont": "Liberation Serif",
      "labelFontSize": 23,
      "titleFontSize": 25,
      "titleFontWeight": "normal"
    },
    "legend": {
      "labelFont": "Liberation Serif",
      "labelFontSize": 15,
      "labelColor": "#000",
      "symbolType": "stroke",
      "symbolSize": 900,
      "symbolStrokeWidth": 2.2,
      "clipHeight": 14,
      "rowPadding": 4,
      "labelOffset": 6,
      "padding": 0,
      "offset": 0
    }
  }
}
